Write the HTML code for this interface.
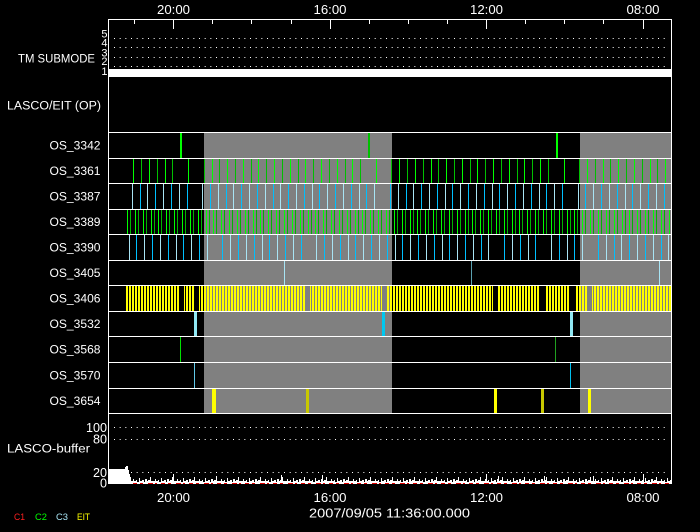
<!DOCTYPE html>
<html><head><meta charset="utf-8"><style>
html,body{margin:0;padding:0;background:#000;}
svg{display:block;}
text{font-family:"Liberation Sans",sans-serif;fill:#fff;}
</style></head><body>
<svg width="700" height="532" viewBox="0 0 700 532" xmlns="http://www.w3.org/2000/svg">
<defs>
<pattern id="yp" patternUnits="userSpaceOnUse" x="126" y="0" width="3" height="10"><rect width="2" height="10" fill="#ffff00"/></pattern>
<pattern id="np" patternUnits="userSpaceOnUse" x="131" y="470" width="22" height="14">
<g fill="#fff">
<rect x="0" y="11" width="2" height="3"/><rect x="2" y="9" width="1" height="5"/><rect x="3" y="11" width="2" height="3"/><rect x="5" y="10" width="1" height="4"/><rect x="6" y="12" width="2" height="2"/><rect x="8" y="8" width="1" height="6"/><rect x="9" y="11" width="2" height="3"/><rect x="11" y="10" width="2" height="4"/><rect x="13" y="12" width="1" height="2"/><rect x="14" y="9" width="2" height="5"/><rect x="16" y="11" width="1" height="3"/><rect x="17" y="10" width="2" height="4"/><rect x="19" y="7" width="1" height="7"/><rect x="20" y="11" width="2" height="3"/>
</g></pattern>
</defs>
<rect width="700" height="532" fill="#000"/>
<g shape-rendering="crispEdges">
<!-- gray bands -->
<rect x="204" y="132" width="188" height="281" fill="#808080"/>
<rect x="580" y="132" width="91" height="281" fill="#808080"/>

<!-- row 1 OS_3342 -->
<rect x="180" y="132" width="2" height="26" fill="#00ff00"/>
<rect x="368" y="132" width="2" height="26" fill="#00c000"/>
<rect x="556" y="132" width="2" height="26" fill="#00ff00"/>

<!-- row 2 OS_3361 -->
<path stroke="#00ff00" stroke-width="1" d="M133.5 158v25M149.5 158v25M165.5 158v25M188.5 158v25M212.5 158v25M227.5 158v25M243.5 158v25M258.5 158v25M274.5 158v25M290.5 158v25M305.5 158v25M321.5 158v25M337.5 158v25M352.5 158v25M376.5 158v25M399.5 158v25M415.5 158v25M431.5 158v25M446.5 158v25M462.5 158v25M477.5 158v25M493.5 158v25M509.5 158v25M524.5 158v25M540.5 158v25M564.5 158v25M587.5 158v25M603.5 158v25M618.5 158v25M634.5 158v25M650.5 158v25M665.5 158v25"/>
<path stroke="#00c000" stroke-width="1" d="M141.5 158v25M157.5 158v25M172.5 158v25M204.5 158v25M219.5 158v25M235.5 158v25M251.5 158v25M266.5 158v25M282.5 158v25M298.5 158v25M313.5 158v25M329.5 158v25M345.5 158v25M360.5 158v25M391.5 158v25M407.5 158v25M423.5 158v25M438.5 158v25M454.5 158v25M470.5 158v25M485.5 158v25M501.5 158v25M517.5 158v25M532.5 158v25M548.5 158v25M579.5 158v25M595.5 158v25M610.5 158v25M626.5 158v25M642.5 158v25M657.5 158v25"/>

<!-- row 3 OS_3387 -->
<path stroke="#a8e4f4" stroke-width="1" d="M132.5 183v26M147.5 183v26M163.5 183v26M179.5 183v26M202.5 183v26M218.5 183v26M233.5 183v26M249.5 183v26M265.5 183v26M280.5 183v26M296.5 183v26M312.5 183v26M327.5 183v26M343.5 183v26M359.5 183v26M374.5 183v26M398.5 183v26M413.5 183v26M429.5 183v26M445.5 183v26M460.5 183v26M476.5 183v26M492.5 183v26M507.5 183v26M523.5 183v26M539.5 183v26M554.5 183v26M578.5 183v26M593.5 183v26M609.5 183v26M625.5 183v26M640.5 183v26M656.5 183v26"/>
<path stroke="#00c0ff" stroke-width="1" d="M140.5 183v26M155.5 183v26M171.5 183v26M187.5 183v26M210.5 183v26M226.5 183v26M241.5 183v26M257.5 183v26M273.5 183v26M288.5 183v26M304.5 183v26M319.5 183v26M335.5 183v26M351.5 183v26M366.5 183v26M390.5 183v26M406.5 183v26M421.5 183v26M437.5 183v26M452.5 183v26M468.5 183v26M484.5 183v26M499.5 183v26M515.5 183v26M531.5 183v26M546.5 183v26M562.5 183v26M585.5 183v26M601.5 183v26M617.5 183v26M632.5 183v26M648.5 183v26M664.5 183v26"/>

<!-- row 4 OS_3389 -->
<path stroke="#00ff00" stroke-width="1" d="M127.5 209v25M135.5 209v25M143.5 209v25M151.5 209v25M158.5 209v25M166.5 209v25M174.5 209v25M182.5 209v25M190.5 209v25M198.5 209v25M206.5 209v25M213.5 209v25M221.5 209v25M229.5 209v25M237.5 209v25M245.5 209v25M253.5 209v25M260.5 209v25M268.5 209v25M276.5 209v25M284.5 209v25M292.5 209v25M300.5 209v25M308.5 209v25M315.5 209v25M323.5 209v25M331.5 209v25M339.5 209v25M347.5 209v25M355.5 209v25M362.5 209v25M370.5 209v25M378.5 209v25M386.5 209v25M394.5 209v25M402.5 209v25M410.5 209v25M417.5 209v25M425.5 209v25M433.5 209v25M441.5 209v25M449.5 209v25M457.5 209v25M465.5 209v25M472.5 209v25M480.5 209v25M488.5 209v25M496.5 209v25M504.5 209v25M512.5 209v25M519.5 209v25M527.5 209v25M535.5 209v25M543.5 209v25M551.5 209v25M559.5 209v25M567.5 209v25M574.5 209v25M582.5 209v25M590.5 209v25M598.5 209v25M606.5 209v25M614.5 209v25M622.5 209v25M629.5 209v25M637.5 209v25M645.5 209v25M653.5 209v25M661.5 209v25M669.5 209v25"/>
<path stroke="#00b400" stroke-width="1" d="M130.5 209v25M138.5 209v25M146.5 209v25M154.5 209v25M161.5 209v25M169.5 209v25M177.5 209v25M185.5 209v25M193.5 209v25M201.5 209v25M209.5 209v25M216.5 209v25M224.5 209v25M232.5 209v25M240.5 209v25M248.5 209v25M256.5 209v25M263.5 209v25M271.5 209v25M279.5 209v25M287.5 209v25M295.5 209v25M303.5 209v25M311.5 209v25M318.5 209v25M326.5 209v25M334.5 209v25M342.5 209v25M350.5 209v25M358.5 209v25M365.5 209v25M373.5 209v25M381.5 209v25M389.5 209v25M397.5 209v25M405.5 209v25M413.5 209v25M420.5 209v25M428.5 209v25M436.5 209v25M444.5 209v25M452.5 209v25M460.5 209v25M468.5 209v25M475.5 209v25M483.5 209v25M491.5 209v25M499.5 209v25M507.5 209v25M515.5 209v25M522.5 209v25M530.5 209v25M538.5 209v25M546.5 209v25M554.5 209v25M562.5 209v25M570.5 209v25M577.5 209v25M585.5 209v25M593.5 209v25M601.5 209v25M609.5 209v25M617.5 209v25M625.5 209v25M632.5 209v25M640.5 209v25M648.5 209v25M656.5 209v25M664.5 209v25"/>

<!-- row 5 OS_3390 -->
<path stroke="#a8e4f4" stroke-width="1" d="M129.5 234v26M144.5 234v26M160.5 234v26M176.5 234v26M191.5 234v26M207.5 234v26M230.5 234v26M246.5 234v26M262.5 234v26M277.5 234v26M293.5 234v26M316.5 234v26M332.5 234v26M348.5 234v26M363.5 234v26M379.5 234v26M395.5 234v26M410.5 234v26M426.5 234v26M442.5 234v26M457.5 234v26M473.5 234v26M488.5 234v26M512.5 234v26M528.5 234v26M551.5 234v26M567.5 234v26M582.5 234v26M606.5 234v26M621.5 234v26M637.5 234v26M653.5 234v26M668.5 234v26"/>
<path stroke="#00c0ff" stroke-width="1" d="M136.5 234v26M152.5 234v26M168.5 234v26M183.5 234v26M199.5 234v26M222.5 234v26M238.5 234v26M254.5 234v26M269.5 234v26M285.5 234v26M301.5 234v26M324.5 234v26M340.5 234v26M355.5 234v26M371.5 234v26M387.5 234v26M402.5 234v26M418.5 234v26M434.5 234v26M449.5 234v26M465.5 234v26M481.5 234v26M504.5 234v26M520.5 234v26M535.5 234v26M559.5 234v26M574.5 234v26M598.5 234v26M614.5 234v26M629.5 234v26M645.5 234v26M661.5 234v26"/>

<!-- row 6 OS_3405 -->
<path stroke="#a8e4f4" stroke-width="1" d="M284.5 260v25M659.5 260v25"/>
<path stroke="#5aa0b0" stroke-width="1" d="M471.5 260v25"/>

<!-- row 7 OS_3406 -->
<rect x="126" y="285" width="545" height="26" fill="url(#yp)"/>
<rect x="180" y="286" width="4" height="25" fill="#000"/>
<rect x="194" y="286" width="5" height="25" fill="#000"/>
<rect x="305" y="286" width="5" height="25" fill="#808080"/>
<rect x="382" y="286" width="5" height="25" fill="#808080"/>
<rect x="493" y="286" width="5" height="25" fill="#000"/>
<rect x="540" y="286" width="5" height="25" fill="#000"/>
<rect x="570" y="286" width="5" height="25" fill="#000"/>
<rect x="587" y="286" width="5" height="25" fill="#808080"/>

<!-- row 8 OS_3532 -->
<rect x="194" y="311" width="3" height="25" fill="#90e8f4"/>
<rect x="382" y="311" width="3" height="25" fill="#00c8f0"/>
<rect x="570" y="311" width="3" height="25" fill="#90e8f4"/>

<!-- row 9 OS_3568 -->
<path stroke="#00e000" stroke-width="1" d="M180.5 336v26"/>
<path stroke="#20a020" stroke-width="1" d="M555.5 336v26"/>

<!-- row 10 OS_3570 -->
<path stroke="#60c8e8" stroke-width="1" d="M194.5 362v26"/>
<path stroke="#00c0f0" stroke-width="1" d="M570.5 362v26"/>

<!-- row 11 OS_3654 -->
<rect x="212" y="388" width="4" height="25" fill="#ffff00"/>
<rect x="306" y="388" width="3" height="25" fill="#c8c800"/>
<rect x="494" y="388" width="3" height="25" fill="#ffff00"/>
<rect x="541" y="388" width="3" height="25" fill="#c8c800"/>
<rect x="588" y="388" width="3" height="25" fill="#ffff00"/>

<!-- horizontal row separators -->
<g fill="#fff">
<rect x="108" y="132" width="564" height="1"/>
<rect x="108" y="158" width="564" height="1"/>
<rect x="108" y="183" width="564" height="1"/>
<rect x="108" y="209" width="564" height="1"/>
<rect x="108" y="234" width="564" height="1"/>
<rect x="108" y="260" width="564" height="1"/>
<rect x="108" y="285" width="564" height="1"/>
<rect x="108" y="311" width="564" height="1"/>
<rect x="108" y="336" width="564" height="1"/>
<rect x="108" y="362" width="564" height="1"/>
<rect x="108" y="388" width="564" height="1"/>
<rect x="108" y="413" width="564" height="1"/>
<!-- TM submode bar -->
<rect x="108" y="69" width="564" height="8"/>
<!-- frame -->
<rect x="108" y="19" width="564" height="1"/>
<rect x="108" y="19" width="1" height="465"/>
<rect x="671" y="19" width="1" height="465"/>
<!-- ticks -->
<rect x="173" y="19" width="1" height="10"/>
<rect x="330" y="19" width="1" height="10"/>
<rect x="486" y="19" width="1" height="10"/>
<rect x="643" y="19" width="1" height="10"/>
<rect x="134" y="19" width="1" height="5"/>
<rect x="212" y="19" width="1" height="5"/>
<rect x="251" y="19" width="1" height="5"/>
<rect x="291" y="19" width="1" height="5"/>
<rect x="369" y="19" width="1" height="5"/>
<rect x="408" y="19" width="1" height="5"/>
<rect x="447" y="19" width="1" height="5"/>
<rect x="525" y="19" width="1" height="5"/>
<rect x="564" y="19" width="1" height="5"/>
<rect x="603" y="19" width="1" height="5"/>
</g>

<!-- buffer -->
<path fill="#fff" d="M109 484V469H125V467H126V466H128V470H129V474H130V477H131V484Z"/>
<rect x="131" y="470" width="540" height="14" fill="url(#np)"/>
<g fill="#fff">
<rect x="173" y="474" width="1" height="10"/>
<rect x="216" y="476" width="1" height="8"/>
<rect x="281" y="475" width="1" height="9"/>
<rect x="322" y="475" width="1" height="9"/>
<rect x="486" y="474" width="1" height="10"/>
<rect x="498" y="476" width="1" height="8"/>
<rect x="544" y="476" width="1" height="8"/>
<rect x="593" y="476" width="1" height="8"/>
<rect x="643" y="474" width="1" height="10"/>
<rect x="109" y="482" width="562" height="2"/>
</g>
<path d="M133 483.5H671" stroke="#e00000" stroke-width="1" stroke-dasharray="4 3 3 5 5 2 2 4"/>
</g>

<!-- dotted lines -->
<path d="M114 38.5H668M114 47.5H668M114 57.5H668M114 66.5H668M114 427.5H668M114 439.5H668M114 472.5H668" stroke="#fff" stroke-width="1" stroke-dasharray="1 4.667"/>

<!-- texts -->
<g font-size="12.5" text-anchor="middle">
<text x="173.5" y="14" textLength="33" lengthAdjust="spacingAndGlyphs">20:00</text>
<text x="330" y="14" textLength="33" lengthAdjust="spacingAndGlyphs">16:00</text>
<text x="486.5" y="14" textLength="33" lengthAdjust="spacingAndGlyphs">12:00</text>
<text x="643" y="14" textLength="33" lengthAdjust="spacingAndGlyphs">08:00</text>
<text x="173.5" y="502" textLength="33" lengthAdjust="spacingAndGlyphs">20:00</text>
<text x="330" y="502" textLength="33" lengthAdjust="spacingAndGlyphs">16:00</text>
<text x="486.5" y="502" textLength="33" lengthAdjust="spacingAndGlyphs">12:00</text>
<text x="643" y="502" textLength="33" lengthAdjust="spacingAndGlyphs">08:00</text>
<text x="389.5" y="517.5" textLength="161" lengthAdjust="spacingAndGlyphs">2007/09/05 11:36:00.000</text>
</g>

<g font-size="11" text-anchor="end">
<text x="107.5" y="37.5">5</text>
<text x="107.5" y="46.5">4</text>
<text x="107.5" y="56.5">3</text>
<text x="107.5" y="65">2</text>
<text x="107.5" y="75">1</text>
</g>

<g font-size="11.5">
<text x="18" y="62.7" textLength="77" lengthAdjust="spacingAndGlyphs">TM SUBMODE</text>
<text x="7" y="109.5" textLength="94" lengthAdjust="spacingAndGlyphs">LASCO/EIT (OP)</text>
<text x="7" y="452.5" textLength="83" lengthAdjust="spacingAndGlyphs">LASCO-buffer</text>
</g>

<g font-size="11.5">
<text x="49.5" y="149.5" textLength="51" lengthAdjust="spacingAndGlyphs">OS_3342</text>
<text x="49.5" y="175" textLength="51" lengthAdjust="spacingAndGlyphs">OS_3361</text>
<text x="49.5" y="200.5" textLength="51" lengthAdjust="spacingAndGlyphs">OS_3387</text>
<text x="49.5" y="226" textLength="51" lengthAdjust="spacingAndGlyphs">OS_3389</text>
<text x="49.5" y="251.5" textLength="51" lengthAdjust="spacingAndGlyphs">OS_3390</text>
<text x="49.5" y="277" textLength="51" lengthAdjust="spacingAndGlyphs">OS_3405</text>
<text x="49.5" y="302.5" textLength="51" lengthAdjust="spacingAndGlyphs">OS_3406</text>
<text x="49.5" y="328" textLength="51" lengthAdjust="spacingAndGlyphs">OS_3532</text>
<text x="49.5" y="353.5" textLength="51" lengthAdjust="spacingAndGlyphs">OS_3568</text>
<text x="49.5" y="379.5" textLength="51" lengthAdjust="spacingAndGlyphs">OS_3570</text>
<text x="49.5" y="405" textLength="51" lengthAdjust="spacingAndGlyphs">OS_3654</text>
</g>

<g font-size="12.5" text-anchor="end">
<text x="107" y="432" textLength="21" lengthAdjust="spacingAndGlyphs">100</text>
<text x="107" y="443.5" textLength="14" lengthAdjust="spacingAndGlyphs">80</text>
<text x="107" y="477" textLength="14" lengthAdjust="spacingAndGlyphs">20</text>
<text x="107" y="487.5" textLength="7" lengthAdjust="spacingAndGlyphs">0</text>
</g>

<g font-size="9.5">
<text x="14" y="520" textLength="11" lengthAdjust="spacingAndGlyphs" style="fill:#ff2020">C1</text>
<text x="35" y="520" textLength="12" lengthAdjust="spacingAndGlyphs" style="fill:#00ff00">C2</text>
<text x="56" y="520" textLength="12" lengthAdjust="spacingAndGlyphs" style="fill:#a8e4f4">C3</text>
<text x="77" y="520" textLength="13" lengthAdjust="spacingAndGlyphs" style="fill:#ffff00">EIT</text>
</g>
</svg>
</body></html>
